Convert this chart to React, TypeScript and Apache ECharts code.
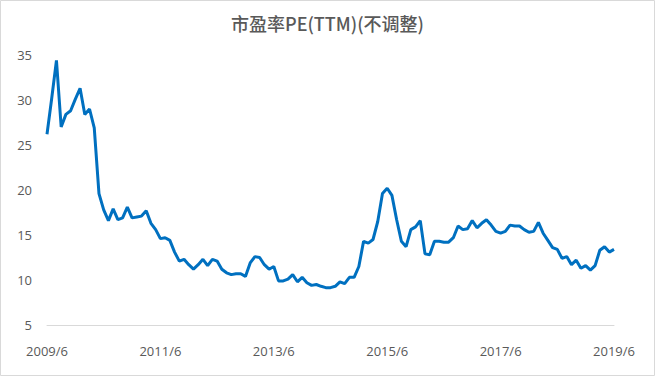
import React, { useEffect, useRef } from "react";
import * as echarts from "echarts";

const TITLE = "市盈率PE(TTM)(不调整)";

// Monthly categories, 2009/6 .. 2019/6
const START_YEAR = 2009;
const START_MONTH = 6;
const MONTH_COUNT = 121;
const months: string[] = [];
for (let k = 0; k < MONTH_COUNT; k++) {
  const m0 = START_MONTH - 1 + k;
  months.push(`${START_YEAR + Math.floor(m0 / 12)}/${(m0 % 12) + 1}`);
}

const peValues: number[] = [
  26.2, 30.2, 34.4, 27.0, 28.4, 28.8, 30.1, 31.3, 28.4, 29.0,
  26.9, 19.6, 17.8, 16.6, 17.9, 16.7, 16.9, 18.1, 16.9, 17.0,
  17.1, 17.7, 16.3, 15.6, 14.6, 14.7, 14.4, 13.1, 12.1, 12.3,
  11.7, 11.2, 11.7, 12.3, 11.6, 12.3, 12.1, 11.2, 10.8, 10.6,
  10.7, 10.7, 10.4, 11.9, 12.6, 12.5, 11.7, 11.2, 11.5, 9.9,
  9.9, 10.1, 10.6, 9.8, 10.3, 9.7, 9.4, 9.5, 9.3, 9.15,
  9.15, 9.3, 9.8, 9.6, 10.3, 10.3, 11.5, 14.3, 14.1, 14.5,
  16.5, 19.6, 20.2, 19.4, 16.7, 14.3, 13.7, 15.6, 15.9, 16.6,
  12.9, 12.8, 14.3, 14.3, 14.2, 14.2, 14.7, 16.0, 15.6, 15.7,
  16.6, 15.8, 16.3, 16.7, 16.1, 15.4, 15.2, 15.4, 16.1, 16.0,
  16.0, 15.6, 15.3, 15.4, 16.4, 15.2, 14.4, 13.6, 13.4, 12.4,
  12.6, 11.7, 12.2, 11.3, 11.6, 11.1, 11.6, 13.3, 13.7, 13.1,
  13.4,
];

const Y_MIN = 5;
const Y_MAX = 35;
const Y_STEP = 5;

export default function App() {
  const ref = useRef<HTMLDivElement>(null);
  useEffect(() => {
    if (!ref.current) return;
    const chart = echarts.init(ref.current, undefined, { renderer: "svg" });
    const font = "'Open Sans', 'Noto Sans', sans-serif";
    chart.setOption({
      animation: false,
      backgroundColor: "#ffffff",
      title: {
        text: TITLE,
        left: "center",
        top: 14,
        padding: 0,
        textStyle: {
          fontFamily: "'Noto Sans CJK SC', 'Noto Sans', sans-serif",
          fontSize: 18,
          fontWeight: 500,
          color: "#595959",
        },
      },
      graphic: [
        {
          type: "rect",
          shape: { x: 0.5, y: 0.5, width: 654, height: 375 },
          style: { fill: "none", stroke: "#d9d9d9", lineWidth: 1 },
          silent: true,
        },
      ],
      grid: { left: 47, right: 41, top: 55, bottom: 51 },
      xAxis: {
        type: "category",
        data: months,
        boundaryGap: false,
        axisLine: { show: true, lineStyle: { color: "#d9d9d9", width: 1 } },
        axisTick: { show: false },
        axisLabel: {
          interval: 23,
          margin: 19,
          color: "#595959",
          fontSize: 13,
          fontFamily: font,
          showMaxLabel: true,
        },
        splitLine: { show: false },
      },
      yAxis: {
        type: "value",
        min: Y_MIN,
        max: Y_MAX,
        interval: Y_STEP,
        axisLine: { show: false },
        axisTick: { show: false },
        splitLine: { show: false },
        axisLabel: {
          margin: 15,
          color: "#595959",
          fontSize: 13,
          fontFamily: font,
        },
      },
      series: [
        {
          type: "line",
          data: peValues,
          symbol: "none",
          lineStyle: { color: "#0070c0", width: 3 },
          itemStyle: { color: "#0070c0" },
        },
      ],
    });
    return () => chart.dispose();
  }, []);
  return (
    <div
      ref={ref}
      style={{ position: "fixed", left: 0, top: 0, width: 655, height: 376 }}
    />
  );
}
